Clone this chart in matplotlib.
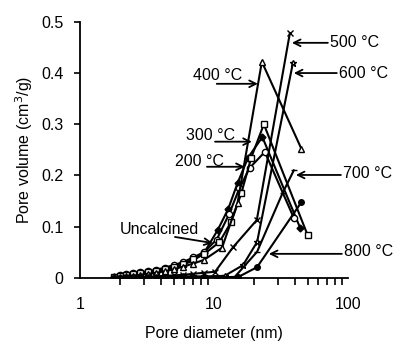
import matplotlib
matplotlib.use("Agg")
import matplotlib.pyplot as plt

plt.rcParams['font.family'] = ['Liberation Sans', 'DejaVu Sans']

# pore diameters (nm) of the small-pore region, shared by all samples
d_small = [1.8, 2.0, 2.2, 2.5, 2.8, 3.2, 3.7, 4.3, 5.0, 5.9, 7.0, 8.4]

d_unc = d_small + [10.7, 12.8, 15.0, 18.0, 23.0, 44.0]
v_unc = [0.002, 0.004, 0.005, 0.007, 0.008, 0.010, 0.013, 0.016, 0.020, 0.026, 0.034, 0.048,
         0.094, 0.135, 0.185, 0.235, 0.275, 0.098]

d_200 = d_small + [10.5, 13.0, 15.5, 18.5, 24.0, 39.5]
v_200 = [0.002, 0.005, 0.007, 0.009, 0.011, 0.013, 0.016, 0.020, 0.025, 0.031, 0.040, 0.050,
         0.075, 0.125, 0.175, 0.215, 0.246, 0.117]

d_300 = d_small + [11.0, 13.5, 16.0, 19.0, 23.6, 50.0]
v_300 = [0.001, 0.003, 0.005, 0.007, 0.009, 0.011, 0.014, 0.017, 0.022, 0.028, 0.036, 0.046,
         0.070, 0.110, 0.165, 0.235, 0.300, 0.084]

d_400 = d_small + [11.5, 15.0, 22.8, 45.0]
v_400 = [0.000, 0.001, 0.003, 0.004, 0.006, 0.008, 0.010, 0.013, 0.017, 0.022, 0.028, 0.035,
         0.059, 0.146, 0.422, 0.252]

d_500 = d_small + [10.2, 13.9, 20.9, 36.9]
v_500 = [0.000, 0.000, 0.001, 0.001, 0.002, 0.002, 0.003, 0.004, 0.005, 0.006, 0.008, 0.010,
         0.012, 0.060, 0.113, 0.478]

d_600 = d_small + [12.0, 16.5, 21.0, 38.9]
v_600 = [0.000, 0.000, 0.000, 0.001, 0.001, 0.001, 0.002, 0.002, 0.002, 0.003, 0.003, 0.003,
         0.004, 0.025, 0.070, 0.420]

d_700 = d_small + [10.5, 14.3, 21.0, 32.6, 39.5]
v_700 = [0.000, 0.000, 0.000, 0.000, 0.000, 0.001, 0.001, 0.001, 0.001, 0.001, 0.001, 0.001,
         0.001, 0.002, 0.051, 0.166, 0.210]

d_800 = d_small + [10.5, 15.0, 21.0, 45.0]
v_800 = [0.000, 0.000, 0.000, 0.000, 0.000, 0.000, 0.000, 0.000, 0.000, 0.000, 0.000, 0.000,
         0.000, 0.001, 0.021, 0.148]

fig = plt.figure(figsize=(3.98, 3.41), dpi=100)
ax = fig.add_axes([0.201, 0.185, 0.673, 0.751])

line = dict(color='black', lw=1.5, mec='black', mew=1.0)
ax.plot(d_unc, v_unc, marker='D', mfc='black', ms=3.5, **line)
ax.plot(d_200, v_200, marker='o', mfc='white', ms=4.5, **line)
ax.plot(d_300, v_300, marker='s', mfc='white', ms=4.5, **line)
ax.plot(d_400, v_400, marker='^', mfc='white', ms=4.5, **line)
ax.plot(d_500, v_500, marker='x', ms=4.5, **line)
ax.plot(d_600, v_600, marker='*', mfc='white', ms=5, **line)
ax.plot(d_700, v_700, marker='_', ms=5, **line)
ax.plot(d_800, v_800, marker='o', mfc='black', ms=4, **line)

ax.set_xscale('log')
ax.set_xlim(1, 100)
ax.set_ylim(0, 0.5)
ax.set_yticks([0, 0.1, 0.2, 0.3, 0.4, 0.5])
ax.set_yticklabels(['0', '0.1', '0.2', '0.3', '0.4', '0.5'])
ax.set_xticks([1, 10, 100])
ax.set_xticklabels(['1', '10', '100'])
ax.spines['top'].set_visible(False)
ax.spines['right'].set_visible(False)
ax.spines['left'].set_linewidth(1.3)
ax.spines['bottom'].set_linewidth(1.3)
ax.tick_params(axis='y', direction='out', length=4, width=1.2, pad=8, labelsize=11.5)
ax.tick_params(axis='x', which='major', direction='out', length=0, pad=14, labelsize=11.5)
ax.tick_params(axis='x', which='minor', direction='out', length=5, width=1.2)

ax.set_xlabel('Pore diameter (nm)', fontsize=11.5, labelpad=10)
ax.set_ylabel('Pore volume (cm$^3$/g)', fontsize=11.5, labelpad=4)

# labels with arrows: (text, text x, text y, arrow start, arrow end)
notes = [
    ('400 °C', 6.97, 0.395, (10.5, 0.379), (21.3, 0.379)),
    ('500 °C', 73.4, 0.459, (70.9, 0.459), (38.2, 0.459)),
    ('600 °C', 85.7, 0.400, (82.7, 0.400), (39.5, 0.400)),
    ('300 °C', 6.18, 0.279, (10.2, 0.266), (19.2, 0.266)),
    ('200 °C', 5.12, 0.227, (8.87, 0.217), (17.0, 0.217)),
    ('Uncalcined', 1.99, 0.094, (5.12, 0.080), (9.8, 0.068)),
    ('700 °C', 91.8, 0.203, (88.7, 0.201), (40.9, 0.201)),
    ('800 °C', 93.4, 0.051, (90.2, 0.047), (25.7, 0.047)),
]
for txt, tx, ty, a0, a1 in notes:
    ax.text(tx, ty, txt, fontsize=11.5, ha='left', va='center', clip_on=False)
    ax.annotate('', xy=a1, xytext=a0, annotation_clip=False,
                arrowprops=dict(arrowstyle='->', color='black', lw=1.3,
                                shrinkA=0, shrinkB=0, mutation_scale=12))

fig.savefig('out.png', dpi=100)
